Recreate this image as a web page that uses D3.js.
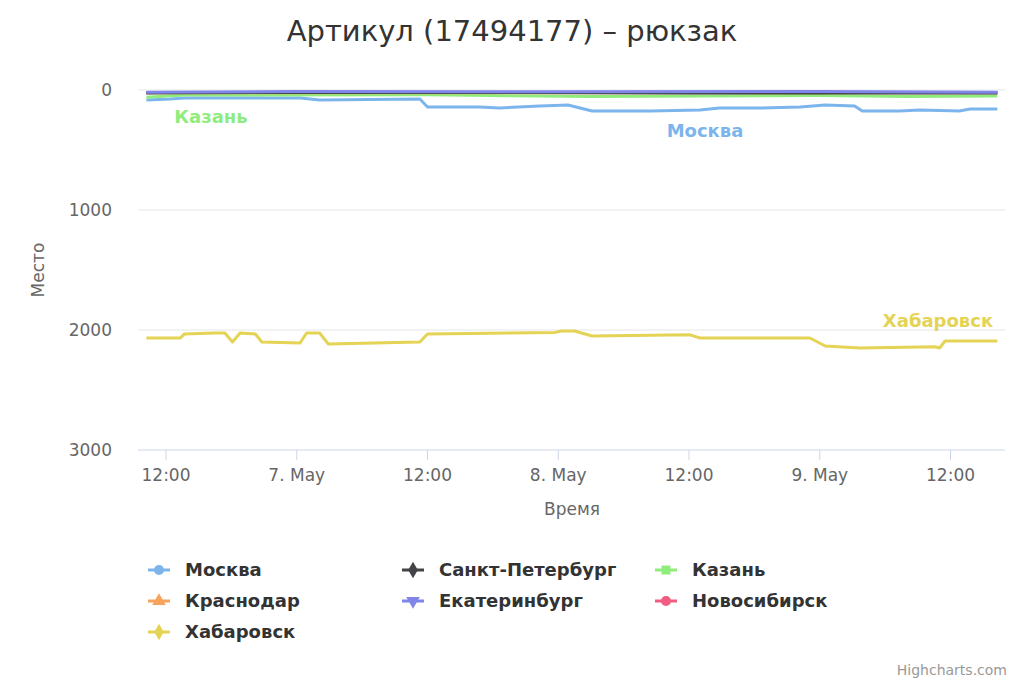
<!DOCTYPE html>
<html><head><meta charset="utf-8">
<script src="https://cdn.jsdelivr.net/npm/d3@7"></script>
<style>body{margin:0;background:#fff}text{font-family:"DejaVu Sans",sans-serif}</style>
</head><body><svg id="chart" width="1024" height="683"></svg>
<script>
// hours counted from 6 May 00:00
var tickHours=[12,24,36,48,60,72,84];
var tickLabels=["12:00","7. May","12:00","8. May","12:00","9. May","12:00"];
var yTicks=[0,1000,2000,3000];

var moscow=[[10.2,83],[12.4,75],[13.7,67],[24.3,67],[26.1,83],[35.3,75],[36,142],[40.8,142],[42.6,150],[46.3,133],[48.9,125],[51.1,175],[56.4,175],[61,167],[62.8,150],[66.5,150],[70.2,142],[72.5,125],[75.2,133],[75.9,175],[79.3,175],[81.2,167],[84.8,175],[85.8,158],[88.3,158]];
var spb=[[10.2,25],[13.7,22],[40,20],[60,25],[88.3,25]];
var kazan=[[10.2,60],[13.7,42],[36,40],[51,55],[72,45],[80,55],[88.3,50]];
var krasnodar=[[10.2,22],[88.3,22]];
var ekb=[[10.2,18],[24,12],[48,15],[72,12],[88.3,18]];
var novosib=[[10.2,20],[88.3,20]];
var khab=[[10.2,2067],[13.3,2067],[13.7,2033],[16.5,2025],[17.4,2025],[18.1,2100],[18.8,2025],[20.2,2033],[20.8,2100],[24.3,2108],[24.9,2025],[26.1,2025],[26.9,2117],[35.3,2100],[36,2033],[47.7,2020],[48.3,2008],[49.5,2008],[51.1,2050],[60.1,2040],[61,2067],[71.1,2067],[72.5,2133],[75.7,2150],[82.6,2140],[83,2150],[83.5,2092],[88.3,2092]];

var seriesNames=["Москва","Санкт-Петербург","Казань","Краснодар","Екатеринбург","Новосибирск","Хабаровск"];
var seriesColors=["#7cb5ec","#434348","#90ed7d","#f7a35c","#8085e9","#f15c80","#e4d354"];
var seriesSymbols=[d3.symbolCircle,d3.symbolDiamond,d3.symbolSquare,d3.symbolTriangle,"down",d3.symbolCircle,d3.symbolDiamond];
var seriesData=[moscow,spb,kazan,krasnodar,ekb,novosib,khab];
var drawOrder=[6,0,2,3,5,1,4];

var svg=d3.select("#chart");
var x=d3.scaleLinear().domain([9.43,89.0]).range([138,1005]);
var y=d3.scaleLinear().domain([0,3000]).range([90,450]);

//grid
svg.selectAll(".grid").data(yTicks).enter().append("line")
	.attr("x1",138).attr("x2",1005)
	.attr("y1",function(d){return y(d)}).attr("y2",function(d){return y(d)})
	.attr("stroke",function(d){return d==3000?"#ccd6eb":"#e6e6e6"});
svg.selectAll(".yl").data(yTicks).enter().append("text")
	.attr("x",112).attr("y",function(d){return y(d)+6})
	.attr("text-anchor","end").attr("fill","#666").style("font-size","17px")
	.text(function(d){return d});

//x axis
svg.selectAll(".xt").data(tickHours).enter().append("line")
	.attr("x1",function(d){return x(d)}).attr("x2",function(d){return x(d)})
	.attr("y1",450).attr("y2",460).attr("stroke","#ccd6eb");
svg.selectAll(".xl").data(tickHours).enter().append("text")
	.attr("x",function(d){return x(d)}).attr("y",481)
	.attr("text-anchor","middle").attr("fill","#666").style("font-size","17px")
	.text(function(d,i){return tickLabels[i]});

//titles
svg.append("text").attr("x",512).attr("y",41).attr("text-anchor","middle")
	.attr("fill","#333").style("font-size","29px").text("Артикул (17494177) – рюкзак");
svg.append("text").attr("transform","translate(44,270) rotate(-90)").attr("text-anchor","middle")
	.attr("fill","#666").style("font-size","17px").text("Место");
svg.append("text").attr("x",572).attr("y",515).attr("text-anchor","middle")
	.attr("fill","#666").style("font-size","17px").text("Время");

//lines
var line=d3.line().x(function(d){return x(d[0])}).y(function(d){return y(d[1])});
drawOrder.forEach(function(i){
	svg.append("path").datum(seriesData[i]).attr("d",line)
		.attr("fill","none").attr("stroke",seriesColors[i]).attr("stroke-width",3)
		.attr("stroke-linejoin","round");
});

//data labels
var labels=[{t:"Казань",x:211,y:123,c:2},{t:"Москва",x:705,y:137,c:0},{t:"Хабаровск",x:938,y:327,c:6}];
svg.selectAll(".dl").data(labels).enter().append("text")
	.attr("x",function(d){return d.x}).attr("y",function(d){return d.y})
	.attr("text-anchor","middle").attr("fill",function(d){return seriesColors[d.c]})
	.style("font-size","18px").style("font-weight","bold")
	.text(function(d){return d.t});

//legend
var leg=svg.selectAll(".leg").data(seriesNames).enter().append("g")
	.attr("transform",function(d,i){return "translate("+[148,402,655][i%3]+","+(570+Math.floor(i/3)*31)+")"});
leg.append("line").attr("x1",0).attr("x2",22).attr("stroke",function(d,i){return seriesColors[i]}).attr("stroke-width",3);
leg.append("path").attr("transform",function(d,i){return "translate(11,0)"+(seriesSymbols[i]=="down"?" rotate(180)":"")})
	.attr("d",function(d,i){var s=seriesSymbols[i]=="down"?d3.symbolTriangle:seriesSymbols[i];return d3.symbol().type(s).size(80)()})
	.attr("fill",function(d,i){return seriesColors[i]});
leg.append("text").attr("x",37).attr("y",6).attr("fill","#333")
	.style("font-size","18px").style("font-weight","bold").text(function(d){return d});

svg.append("text").attr("x",1007).attr("y",675).attr("text-anchor","end")
	.attr("fill","#999").style("font-size","14px").text("Highcharts.com");
</script></body></html>
